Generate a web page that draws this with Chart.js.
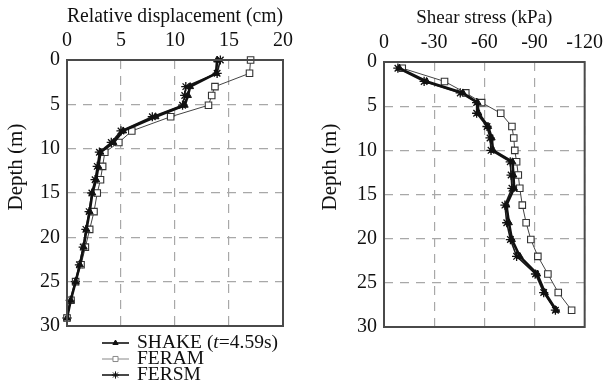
<!DOCTYPE html>
<html>
<head>
<meta charset="utf-8">
<script src="https://cdn.jsdelivr.net/npm/chart.js@4.4.1/dist/chart.umd.min.js"></script>
<style>
    body { margin: 0; background: #fff; }
    #wrap { position: relative; width: 610px; height: 385px; }
    canvas { position: absolute; top: 0; }
</style>
</head>
<body>
<div id="wrap">
    <canvas id="chartDisp" width="305" height="385" style="left:0"></canvas>
    <canvas id="chartStress" width="305" height="385" style="left:305px"></canvas>
</div>
<script>
// depth of layer boundaries (m) and relative displacement (cm)
var dispDepth = [0, 1.5, 3, 4, 5.1, 6.4, 8, 9.3, 10.4, 12, 13.5, 15, 17.1, 19.1, 21.1, 23.1, 25, 27.1, 29.1];
var shakeDisp = [13.9, 13.8, 11.4, 11.2, 10.9, 8.2, 5.2, 4.3, 3.1, 2.9, 2.7, 2.35, 2.1, 1.8, 1.55, 1.2, 0.8, 0.35, 0];
var feramDisp = [17.0, 16.9, 13.7, 13.4, 13.1, 9.6, 6.0, 4.8, 3.5, 3.3, 3.1, 2.8, 2.5, 2.1, 1.7, 1.3, 0.8, 0.37, 0];
var fersmDisp = [14.2, 13.9, 11.0, 10.9, 10.7, 7.9, 5.0, 4.1, 3.0, 2.8, 2.6, 2.3, 2.05, 1.75, 1.5, 1.15, 0.78, 0.3, 0];

// depth of layer mid points (m) and shear stress (kPa)
var stressDepth = [0.7, 2.2, 3.5, 4.6, 5.8, 7.3, 8.6, 10, 11.3, 12.8, 14.3, 16.2, 18.2, 20.1, 22, 24, 26.1, 28.1];
var shakeStress = [-9.2, -25.5, -47.2, -56, -56.5, -62.3, -64.4, -65.2, -76.8, -77.4, -77.8, -73.2, -74.7, -76.5, -81.2, -91.6, -96.2, -103];
var feramStress = [-10.9, -36.2, -48.9, -58.4, -69.8, -76.5, -77.6, -78.2, -79.3, -80.3, -81.2, -82.7, -85, -87.8, -92, -98, -104.2, -112.2];
var fersmStress = [-8.3, -24, -45.6, -55.4, -55.4, -61.6, -63.4, -64, -75.5, -76, -76.5, -72.3, -73.4, -75.6, -79.3, -90.6, -95.5, -102.5];

var depthTicks = [0, 5, 10, 15, 20, 25, 30];
var seriesNames = ['SHAKE', 'FERAM', 'FERSM'];

var serif = "'Liberation Serif', 'Times New Roman', serif";

function pairs(xs, ys) {
    return xs.map(function(v, i) { return { x: v, y: ys[i] }; });
}

function makeSets(a, b, c, depth) {
    return [{
        label: seriesNames[0],
        data: pairs(a, depth),
        borderColor: '#111',
        borderWidth: 2.6,
        pointStyle: 'triangle',
        pointRadius: 4,
        pointBackgroundColor: '#111',
        pointBorderColor: '#111',
        pointBorderWidth: 1
    }, {
        label: seriesNames[1],
        data: pairs(b, depth),
        borderColor: '#444',
        borderWidth: 1,
        pointStyle: 'rect',
        pointRadius: 4.6,
        pointBackgroundColor: '#fff',
        pointBorderColor: '#333',
        pointBorderWidth: 1.1
    }, {
        label: seriesNames[2],
        data: pairs(c, depth),
        borderColor: '#1a1a1a',
        borderWidth: 1.6,
        pointStyle: 'star',
        pointRadius: 4.6,
        pointBackgroundColor: '#111',
        pointBorderColor: '#111',
        pointBorderWidth: 1.3
    }];
}

// frame, rotated y title and the legend under the plot
var extras = {
    id: 'extras',
    afterDraw: function(chart, args, o) {
        var ctx = chart.ctx, a = chart.chartArea;
        ctx.save();
        ctx.strokeStyle = '#4a4a4a';
        ctx.lineWidth = 2;
        ctx.strokeRect(a.left, a.top, a.right - a.left, a.bottom - a.top);

        ctx.fillStyle = '#111';
        ctx.font = '21px ' + serif;
        ctx.textAlign = 'center';
        ctx.textBaseline = 'middle';
        ctx.translate(o.yTitleX, 167);
        ctx.rotate(-Math.PI / 2);
        ctx.fillText('Depth (m)', 0, 0);
        ctx.restore();

        var ys = [343, 359, 375];
        chart.data.datasets.forEach(function(ds, i) {
            var y = ys[i], x0 = o.legendX, x1 = o.legendX + 27;
            ctx.save();
            ctx.strokeStyle = i == 1 ? '#888' : ds.borderColor;
            ctx.lineWidth = i == 1 ? 1 : 1.6;
            ctx.beginPath();
            ctx.moveTo(x0, y);
            ctx.lineTo(x1, y);
            ctx.stroke();
            ctx.fillStyle = ds.pointBackgroundColor;
            ctx.strokeStyle = i == 1 ? '#888' : ds.pointBorderColor;
            ctx.lineWidth = 1;
            Chart.helpers.drawPoint(ctx, { pointStyle: ds.pointStyle, radius: i == 0 ? 3 : 3.6, borderWidth: 1 }, (x0 + x1) / 2, y);
            ctx.fillStyle = '#111';
            ctx.textAlign = 'left';
            ctx.textBaseline = 'middle';
            var tx = x1 + 8, fs = '19.5px ';
            if (i == 0) {
                ctx.font = fs + serif;
                ctx.fillText('SHAKE (', tx, y);
                tx += ctx.measureText('SHAKE (').width;
                ctx.font = 'italic ' + fs + serif;
                ctx.fillText('t', tx, y);
                tx += ctx.measureText('t').width;
                ctx.font = fs + serif;
                ctx.fillText('=4.59s)', tx, y);
            } else {
                ctx.font = fs + serif;
                ctx.fillText(ds.label, tx, y);
            }
            ctx.restore();
        });
    }
};

function buildChart(id, c) {
    var gridOpts = { color: '#a8a8a8', lineWidth: 1.2, drawTicks: false };
    var borderOpts = { display: false, dash: [9, 7] };
    return new Chart(document.getElementById(id), {
        type: 'scatter',
        data: { datasets: c.datasets },
        plugins: [extras],
        options: {
            responsive: false,
            animation: false,
            layout: { padding: { left: 0, top: 0, right: c.padRight, bottom: c.padBottom } },
            elements: { line: { tension: 0 } },
            datasets: { scatter: { showLine: true, clip: false } },
            scales: {
                x: {
                    type: 'linear',
                    position: 'top',
                    min: c.xMin,
                    max: c.xMax,
                    reverse: c.xReverse,
                    ticks: { stepSize: c.xStep, padding: 7, color: '#111', font: { family: serif, size: 20 } },
                    grid: gridOpts,
                    border: borderOpts,
                    title: {
                        display: true,
                        text: c.xTitle,
                        color: '#111',
                        font: { family: serif, size: c.xTitleSize },
                        padding: { top: c.titleTop, bottom: 0 }
                    },
                    afterFit: function(s) { s.height = c.top; }
                },
                y: {
                    type: 'linear',
                    reverse: true,
                    min: 0,
                    max: 30,
                    afterBuildTicks: function(s) { s.ticks = depthTicks.map(function(v) { return { value: v }; }); },
                    ticks: { padding: 7, color: '#111', font: { family: serif, size: 20 } },
                    grid: gridOpts,
                    border: borderOpts,
                    afterFit: function(s) { s.width = c.left; }
                }
            },
            plugins: {
                legend: { display: false },
                tooltip: { enabled: false },
                extras: { yTitleX: c.yTitleX, legendX: c.legendX }
            }
        }
    });
}

buildChart('chartDisp', {
    datasets: makeSets(shakeDisp, feramDisp, fersmDisp, dispDepth),
    xMin: 0, xMax: 20, xStep: 5, xReverse: false,
    xTitle: 'Relative displacement (cm)', xTitleSize: 20, titleTop: 5,
    left: 67, top: 60, padRight: 22, padBottom: 59,
    yTitleX: 16, legendX: 102
});

buildChart('chartStress', {
    datasets: makeSets(shakeStress, feramStress, fersmStress, stressDepth),
    xMin: -120, xMax: 0, xStep: 30, xReverse: true,
    xTitle: 'Shear stress (kPa)', xTitleSize: 19, titleTop: 7,
    left: 79, top: 62, padRight: 13, padBottom: 58,
    yTitleX: 25, legendX: 416
});
</script>
</body>
</html>
